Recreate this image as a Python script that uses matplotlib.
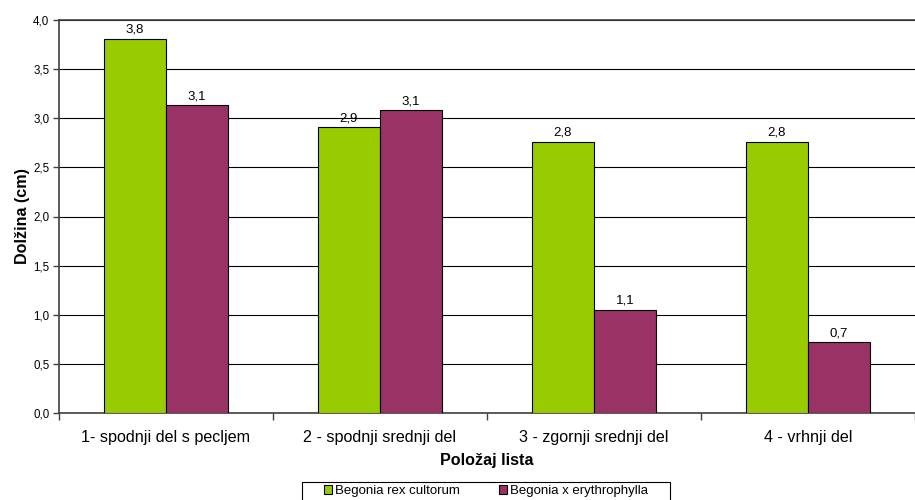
import matplotlib
matplotlib.use("Agg")
import matplotlib.pyplot as plt
from matplotlib.patches import Rectangle
import numpy as np

categories = ["1- spodnji del s pecljem", "2 - spodnji srednji del",
              "3 - zgornji srednji del", "4 - vrhnji del"]
series_names = ["Begonia rex cultorum", "Begonia x erythrophylla"]
rex_values = [3.81, 2.91, 2.76, 2.76]
ery_values = [3.13, 3.08, 1.05, 0.72]
y_ticks = [0.0, 0.5, 1.0, 1.5, 2.0, 2.5, 3.0, 3.5, 4.0]

colors = ["#99CC00", "#993366"]

plt.rcParams["font.family"] = ["Liberation Sans", "DejaVu Sans"]

W, H = 915, 500
fig = plt.figure(figsize=(W / 100, H / 100), dpi=100)
ax = fig.add_axes([59 / W, 87 / H, 856 / W, 393 / H])

x = np.arange(len(categories))
w = 0.29
for vals, off, col, name in [(rex_values, -w / 2, colors[0], series_names[0]),
                             (ery_values, w / 2, colors[1], series_names[1])]:
    bars = ax.bar(x + off, vals, width=w, color=col, edgecolor="black",
                  linewidth=0.8, label=name, zorder=3)
    for b, v in zip(bars, vals):
        ax.text(b.get_x() + b.get_width() / 2, v + 0.03,
                f"{v:.1f}".replace(".", ","), ha="center", va="bottom",
                fontsize=9.5, zorder=4)

ax.set_xlim(-0.5, len(categories) - 0.5)
ax.set_ylim(0, 4.0)
ax.set_yticks(y_ticks)
ax.set_yticklabels([f"{t:.1f}".replace(".", ",") for t in y_ticks], fontsize=8.3)
ax.yaxis.grid(True, color="black", linewidth=0.8, zorder=0)
ax.set_axisbelow(True)

ax.set_xticks(x)
ax.set_xticklabels(categories, fontsize=11.6)
ax.set_xticks(np.arange(-0.5, len(categories)), minor=True)
ax.tick_params(axis="x", which="major", length=0, pad=12)
ax.tick_params(axis="x", which="minor", length=5, color="#404040", width=1)
ax.tick_params(axis="y", length=4, color="#404040", width=1, pad=3)

ax.spines["right"].set_visible(False)
for side in ["left", "bottom", "top"]:
    ax.spines[side].set_color("#404040")
    ax.spines[side].set_linewidth(1.2)

ax.set_xlabel("Položaj lista", fontsize=11.6, fontweight="bold", labelpad=6)
ax.set_ylabel("Dolžina (cm)", fontsize=11.6, fontweight="bold", labelpad=2.5)

# legend frame, running past the lower edge of the figure
fig.add_artist(Rectangle((302 / W, -0.05), (670 - 302) / W, 0.05 + 18 / H,
                         transform=fig.transFigure, facecolor="white",
                         edgecolor="black", linewidth=0.8))
leg = fig.legend(loc="upper left", bbox_to_anchor=(324 / W, 1 - 485 / H),
                 ncol=2, fontsize=9.5, frameon=False,
                 handlelength=0.6, handleheight=0.6,
                 handletextpad=0.2, columnspacing=3.0, borderpad=0,
                 borderaxespad=0)

fig.savefig("out.png", dpi=100)
